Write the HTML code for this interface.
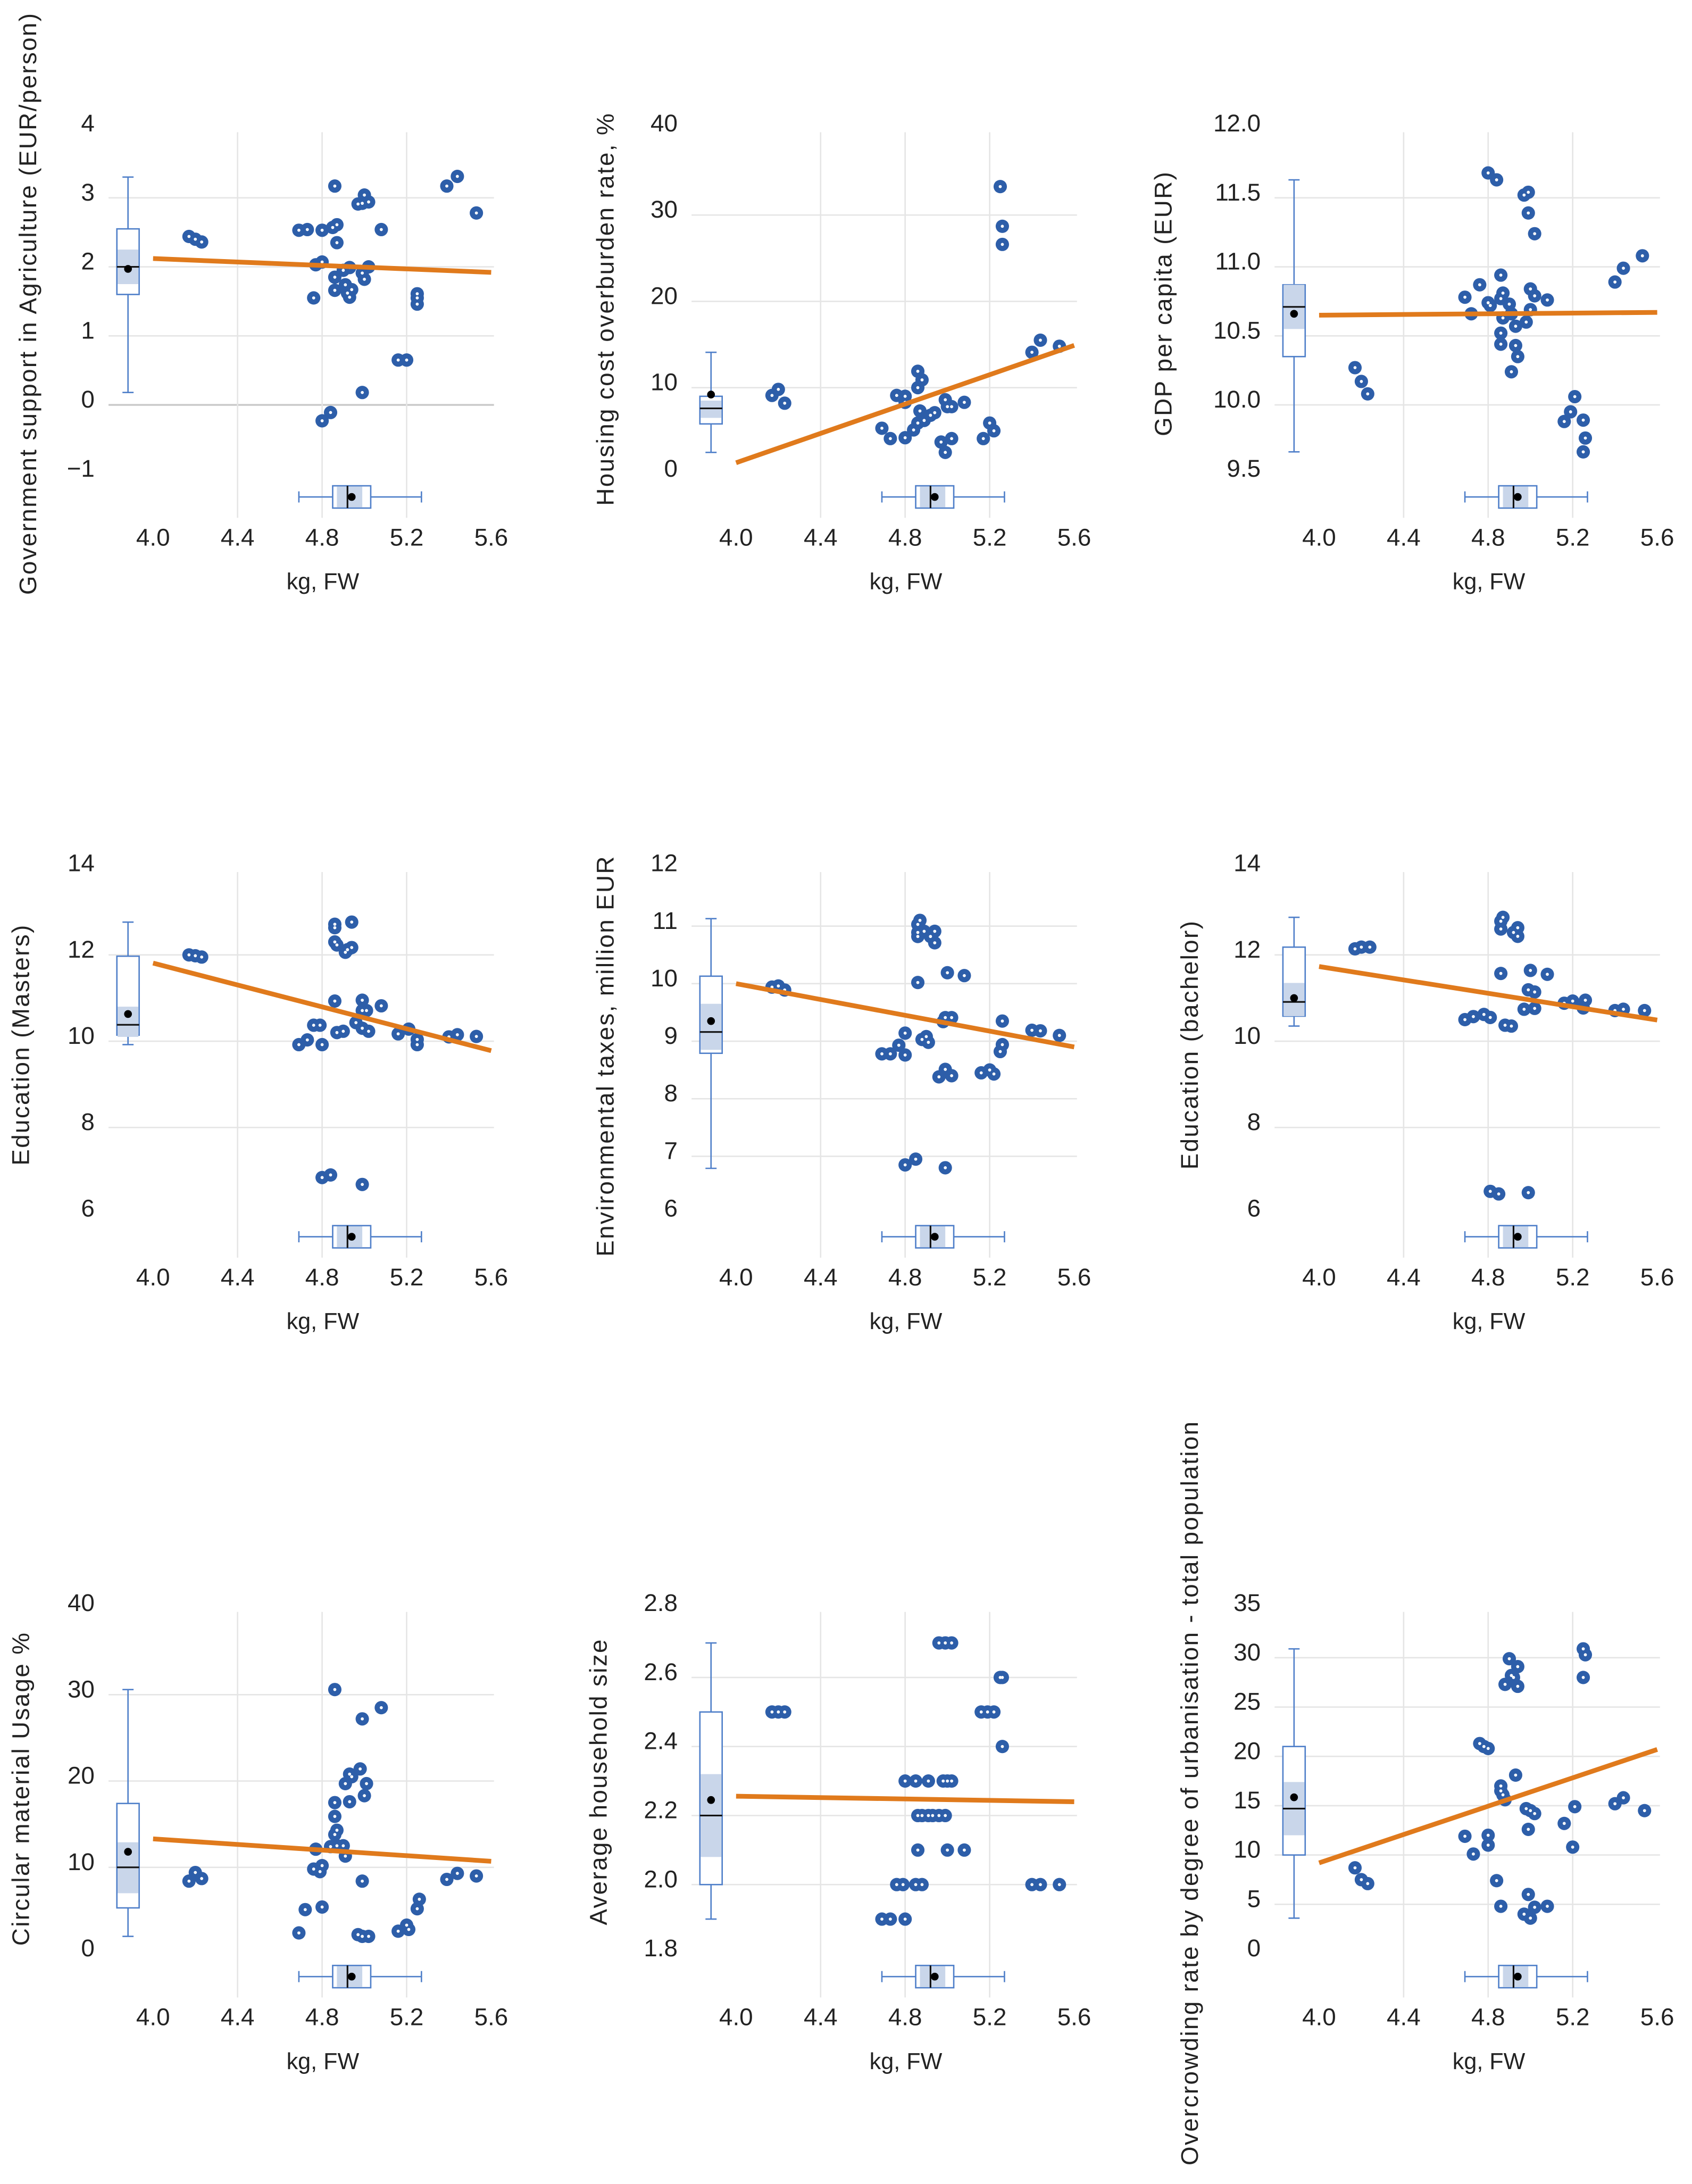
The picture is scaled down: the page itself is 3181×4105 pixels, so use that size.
<!DOCTYPE html>
<html><head><meta charset="utf-8"><title>Scatter panels</title>
<style>html,body{margin:0;padding:0;background:#fff;}svg{display:block;}</style></head>
<body>
<svg id="chart" xmlns="http://www.w3.org/2000/svg" width="3181" height="4105" viewBox="0 0 1216 1569" preserveAspectRatio="none" font-family="Liberation Sans, Arial, sans-serif"></svg>
<script>
// ---------- data ----------
const xTicks = [4.0, 4.4, 4.8, 5.2, 5.6];
const xTickLabels = ["4.0", "4.4", "4.8", "5.2", "5.6"];
const xBoxStats = [4.69, 4.85, 4.92, 5.03, 5.27]; // min, q1, median, q3, max
const xBoxMean = [4.94];
const xBoxCI = [4.87, 4.99];

const titles = [
  "Government support in Agriculture (EUR/person)",
  "Housing cost overburden rate, %",
  "GDP per capita (EUR)",
  "Education (Masters)",
  "Environmental taxes, million EUR",
  "Education (bachelor)",
  "Circular material Usage %",
  "Average household size",
  "Overcrowding rate by degree of urbanisation - total population"
];

const ticks1 = [4, 3, 2, 1, 0, -1];
const tickLabels1 = ["4", "3", "2", "1", "0", "\u22121"];
const x1 = [4.17,4.20,4.23,4.69,4.73,4.80,4.85,4.87,4.86,4.87,4.77,4.80,4.76,4.86,4.86,4.90,4.93,4.91,4.92,4.94,4.93,4.97,5.00,4.99,5.02,4.99,5.00,5.02,5.08,5.16,5.20,5.25,5.25,5.25,4.99,4.80,4.84,5.39,5.44,5.53];
const y1 = [2.44,2.40,2.36,2.53,2.54,2.53,2.57,2.61,3.17,2.35,2.03,2.07,1.55,1.85,1.66,1.95,1.99,1.74,1.62,1.67,1.56,2.91,3.04,2.92,2.94,1.91,1.82,2.00,2.54,0.65,0.65,1.61,1.55,1.46,0.18,-0.23,-0.11,3.17,3.31,2.78];
const trend1 = [2.12, 1.92];
const box1 = [0.18, 1.6, 2.0, 2.55, 3.3];
const mean1 = [1.97];
const ci1 = [1.75, 2.25];

const ticks2 = [40, 30, 20, 10, 0];
const tickLabels2 = ["40", "30", "20", "10", "0"];
const x2 = [5.25,5.26,5.26,4.17,4.20,4.23,5.40,5.44,5.53,4.86,4.88,4.86,4.76,4.80,4.80,4.69,4.73,4.80,4.84,4.87,4.89,4.92,4.94,4.86,4.99,5.00,5.02,5.08,4.97,4.99,5.02,5.17,5.20,5.22];
const y2 = [33.3,28.7,26.6,9.1,9.8,8.2,14.1,15.5,14.8,11.9,10.9,10.0,9.1,9.0,8.3,5.3,4.1,4.2,5.1,7.3,6.2,6.8,7.1,5.9,8.6,7.8,7.8,8.3,3.7,2.5,4.1,4.1,5.9,5.0];
const trend2 = [1.3, 14.9];
const box2 = [2.5, 5.8, 7.6, 9.0, 14.1];
const mean2 = [9.2];
const ci2 = [6.5, 8.5];

const ticks3 = [12.0, 11.5, 11.0, 10.5, 10.0, 9.5];
const tickLabels3 = ["12.0", "11.5", "11.0", "10.5", "10.0", "9.5"];
const x3 = [4.80,4.84,4.97,4.99,4.99,5.02,4.17,4.20,4.23,5.21,5.19,5.16,5.25,5.26,5.25,5.40,5.44,5.53,4.86,4.76,4.69,4.87,4.80,4.86,4.90,5.00,5.02,5.08,4.72,4.81,4.87,4.91,5.00,4.98,4.93,4.86,4.86,4.93,4.94,4.91];
const y3 = [11.68,11.63,11.52,11.54,11.39,11.24,10.27,10.17,10.08,10.06,9.95,9.88,9.89,9.76,9.66,10.89,10.99,11.08,10.94,10.87,10.78,10.81,10.74,10.77,10.73,10.84,10.79,10.76,10.66,10.72,10.63,10.66,10.69,10.60,10.57,10.52,10.44,10.43,10.35,10.24];
const trend3 = [10.65, 10.67];
const box3 = [9.66, 10.35, 10.71, 10.87, 11.63];
const mean3 = [10.66];
const ci3 = [10.55, 10.87];

const ticks4 = [14, 12, 10, 8, 6];
const tickLabels4 = ["14", "12", "10", "8", "6"];
const x4 = [4.17,4.20,4.23,4.86,4.86,4.94,4.86,4.87,4.91,4.94,4.92,4.86,4.99,5.08,4.99,5.01,4.76,4.79,4.87,4.90,4.96,4.99,5.02,4.69,4.73,4.80,5.16,5.21,5.25,5.25,5.40,5.44,5.53,4.80,4.84,4.99];
const y4 = [12.0,11.98,11.95,12.71,12.63,12.76,12.30,12.23,12.06,12.17,12.12,10.93,10.95,10.82,10.71,10.71,10.37,10.37,10.20,10.23,10.43,10.30,10.23,9.92,10.03,9.92,10.17,10.28,10.04,9.92,10.10,10.15,10.11,6.84,6.90,6.68];
const trend4 = [11.81, 9.78];
const box4 = [9.92, 10.14, 10.38, 11.97, 12.76];
const mean4 = [10.63];
const ci4 = [10.1, 10.8];

const ticks5 = [12, 11, 10, 9, 8, 7, 6];
const tickLabels5 = ["12", "11", "10", "9", "8", "7", "6"];
const x5 = [4.87,4.86,4.86,4.86,4.89,4.94,4.92,4.94,5.00,5.08,4.86,4.17,4.20,4.23,4.99,5.02,4.98,5.26,5.40,5.44,5.53,4.80,4.88,4.90,4.91,4.77,4.69,4.73,4.80,5.26,5.25,4.99,4.96,5.02,5.16,5.20,5.22,4.80,4.85,4.99];
const y5 = [11.1,11.03,10.89,10.82,10.91,10.91,10.82,10.71,10.19,10.14,10.02,9.94,9.96,9.89,9.41,9.41,9.34,9.35,9.19,9.18,9.10,9.14,9.03,9.08,8.98,8.93,8.78,8.78,8.76,8.94,8.82,8.51,8.38,8.40,8.45,8.50,8.43,6.85,6.95,6.80];
const trend5 = [10.0, 8.9];
const box5 = [6.79, 8.79, 9.16, 10.13, 11.13];
const mean5 = [9.35];
const ci5 = [8.85, 9.65];

const ticks6 = [14, 12, 10, 8, 6];
const tickLabels6 = ["14", "12", "10", "8", "6"];
const x6 = [4.17,4.20,4.24,4.87,4.86,4.86,4.94,4.92,4.94,4.86,5.00,5.08,4.99,5.02,5.16,5.20,5.26,5.25,5.40,5.44,5.54,4.97,5.02,4.69,4.73,4.78,4.81,4.88,4.91,4.81,4.85,4.99];
const y6 = [12.14,12.18,12.18,12.87,12.78,12.60,12.63,12.52,12.43,11.57,11.64,11.55,11.19,11.14,10.88,10.93,10.95,10.77,10.71,10.74,10.71,10.74,10.76,10.50,10.57,10.62,10.55,10.37,10.35,6.52,6.46,6.49];
const trend6 = [11.73, 10.49];
const box6 = [10.35, 10.58, 10.91, 12.18, 12.87];
const mean6 = [11.0];
const ci6 = [10.58, 11.35];

const ticks7 = [40, 30, 20, 10, 0];
const tickLabels7 = ["40", "30", "20", "10", "0"];
const x7 = [4.86,5.08,4.99,4.98,4.93,4.94,4.91,5.01,5.00,4.93,4.86,4.86,4.87,4.86,4.77,4.84,4.87,4.90,4.91,4.76,4.80,4.79,4.99,4.17,4.20,4.23,5.39,5.44,5.53,5.26,5.25,4.72,4.80,4.69,4.97,4.99,5.02,5.16,5.20,5.21];
const y7 = [30.6,28.5,27.2,21.4,20.8,20.5,19.7,19.7,18.3,17.6,17.5,15.9,14.3,13.8,12.1,12.4,12.5,12.5,11.3,9.8,10.2,9.5,8.4,8.4,9.4,8.7,8.6,9.3,9.0,6.3,5.2,5.1,5.4,2.4,2.2,2.0,2.0,2.6,3.3,2.8];
const trend7 = [13.3, 10.7];
const box7 = [2.0, 5.3, 10.0, 17.4, 30.6];
const mean7 = [11.8];
const ci7 = [7.0, 12.9];

const ticks8 = [2.8, 2.6, 2.4, 2.2, 2.0, 1.8];
const tickLabels8 = ["2.8", "2.6", "2.4", "2.2", "2.0", "1.8"];
const x8 = [4.96,4.99,5.02,5.25,5.26,4.17,4.20,4.23,5.16,5.19,5.22,5.26,4.80,4.85,4.91,4.98,5.00,5.02,4.86,4.88,4.91,4.93,4.96,4.99,4.86,5.00,5.08,4.76,4.79,4.85,4.88,5.40,5.44,5.53,4.69,4.73,4.80];
const y8 = [2.7,2.7,2.7,2.6,2.6,2.5,2.5,2.5,2.5,2.5,2.5,2.4,2.3,2.3,2.3,2.3,2.3,2.3,2.2,2.2,2.2,2.2,2.2,2.2,2.1,2.1,2.1,2.0,2.0,2.0,2.0,2.0,2.0,2.0,1.9,1.9,1.9];
const trend8 = [2.256, 2.24];
const box8 = [1.9, 2.0, 2.2, 2.5, 2.7];
const mean8 = [2.245];
const ci8 = [2.08, 2.32];

const ticks9 = [35, 30, 25, 20, 15, 10, 5, 0];
const tickLabels9 = ["35", "30", "25", "20", "15", "10", "5", "0"];
const x9 = [5.25,5.26,5.25,4.90,4.94,4.91,4.92,4.88,4.94,4.76,4.78,4.80,4.93,4.86,4.86,4.87,4.88,4.98,5.00,5.02,5.21,5.16,5.20,5.40,5.44,5.54,4.69,4.80,4.80,4.73,4.99,4.17,4.20,4.23,4.84,4.86,4.99,5.02,5.08,4.97,5.00];
const y9 = [30.9,30.3,28.0,29.9,29.1,28.2,28.0,27.3,27.1,21.3,21.0,20.8,18.1,17.0,16.5,16.1,15.6,14.7,14.5,14.2,14.9,13.2,10.8,15.2,15.8,14.5,11.9,12.0,11.0,10.1,12.6,8.7,7.5,7.1,7.4,4.8,6.0,4.7,4.8,4.0,3.6];
const trend9 = [9.2, 20.7];
const box9 = [3.6, 10.0, 14.7, 21.0, 30.9];
const mean9 = [15.85];
const ci9 = [12.0, 17.4];

// ---------- layout (not data) ----------
const panels = [
  {t:0, ticks:ticks1, lab:tickLabels1, xs:x1, ys:y1, tr:trend1, box:box1, mean:mean1, ci:ci1, col:0,row:0, tx:20, ty:218, zero:true},
  {t:1, ticks:ticks2, lab:tickLabels2, xs:x2, ys:y2, tr:trend2, box:box2, mean:mean2, ci:ci2, col:1,row:0, tx:16, ty:222},
  {t:2, ticks:ticks3, lab:tickLabels3, xs:x3, ys:y3, tr:trend3, box:box3, mean:mean3, ci:ci3, col:2,row:0, tx:-2, ty:218},
  {t:3, ticks:ticks4, lab:tickLabels4, xs:x4, ys:y4, tr:trend4, box:box4, mean:mean4, ci:ci4, col:0,row:1, tx:15, ty:219},
  {t:4, ticks:ticks5, lab:tickLabels5, xs:x5, ys:y5, tr:trend5, box:box5, mean:mean5, ci:ci5, col:1,row:1, tx:16, ty:227},
  {t:5, ticks:ticks6, lab:tickLabels6, xs:x6, ys:y6, tr:trend6, box:box6, mean:mean6, ci:ci6, col:2,row:1, tx:17, ty:219},
  {t:6, ticks:ticks7, lab:tickLabels7, xs:x7, ys:y7, tr:trend7, box:box7, mean:mean7, ci:ci7, col:0,row:2, tx:15, ty:222},
  {t:7, ticks:ticks8, lab:tickLabels8, xs:x8, ys:y8, tr:trend8, box:box8, mean:mean8, ci:ci8, col:1,row:2, tx:11, ty:217},
  {t:8, ticks:ticks9, lab:tickLabels9, xs:x9, ys:y9, tr:trend9, box:box9, mean:mean9, ci:ci9, col:2,row:2, tx:17, ty:225}
];
const COL_OFF = [0, 419, 838];
const ROW_OFF = [0, 531.5, 1063];
const NS = "http://www.w3.org/2000/svg";
const svg = document.getElementById('chart');
const BLUE = "#2d5ea9", BOXC = "#4f7fc9", SHADE = "#c9d6ea", GRID = "#e5e5e5";

function mk(tag, attrs, parent){ const e=document.createElementNS(NS,tag); for(const k in attrs) e.setAttribute(k, attrs[k]); parent.appendChild(e); return e; }

panels.forEach((p, i) => {
  const g = mk('g', {transform:`translate(${COL_OFF[p.col]},${ROW_OFF[p.row]})`}, svg);
  
  
  const ymax = p.ticks[0], ymin = p.ticks[p.ticks.length-1];
  const xs = v => 110 + (v - 4.0) / 1.6 * 243;
  const ys = v => 92.5 + (ymax - v) / (ymax - ymin) * 248;

  p.ticks.forEach((t, k) => {
    if (k === 0 || k === p.ticks.length-1) return;
    if (p.zero && t === 0) return;
    const l = mk('line', {x1:78, x2:355, y1:ys(t), y2:ys(t), stroke:GRID, 'stroke-width':1}, g);
    
    
  });
  if (p.zero) {
    const z = mk('line', {x1:78, x2:355, y1:ys(0), y2:ys(0), stroke:"#c8c8c8", 'stroke-width':1.3}, g);
    
    
  }
  xTicks.forEach((t, k) => {
    if (k === 0 || k === xTicks.length-1) return;
    const l = mk('line', {x1:xs(t), x2:xs(t), y1:95, y2:372, stroke:GRID, 'stroke-width':1}, g);
    
    
  });

  p.ticks.forEach((t, k) => {
    const tx = mk('text', {x:68, y:ys(t)-4, 'text-anchor':'end', 'font-size':17.5, fill:'#222', 'dominant-baseline':'central'}, g);
    tx.textContent = p.lab[k];
    
    
  });
  xTicks.forEach((t, k) => {
    const tx = mk('text', {x:xs(t), y:386, 'text-anchor':'middle', 'font-size':17.5, fill:'#222', 'dominant-baseline':'central'}, g);
    tx.textContent = xTickLabels[k];
    
    
  });
  const xt = mk('text', {x:232, y:418, 'text-anchor':'middle', 'font-size':16.5, fill:'#222', 'dominant-baseline':'central'}, g);
  xt.textContent = "kg, FW";
  
  
  const yt = mk('text', {x:p.tx, y:p.ty, 'text-anchor':'middle', 'font-size':17.5, 'letter-spacing':0.9, fill:'#222', 'dominant-baseline':'central', transform:`rotate(-90 ${p.tx} ${p.ty})`}, g);
  yt.textContent = titles[p.t];
  
  

  const bx = 92, bw = 16;
  const vb = mk('g', {}, g);
  
  
  mk('line', {x1:bx, x2:bx, y1:ys(p.box[4]), y2:ys(p.box[0]), stroke:BOXC, 'stroke-width':1}, vb);
  mk('line', {x1:bx-4, x2:bx+4, y1:ys(p.box[4]), y2:ys(p.box[4]), stroke:BOXC, 'stroke-width':1}, vb);
  mk('line', {x1:bx-4, x2:bx+4, y1:ys(p.box[0]), y2:ys(p.box[0]), stroke:BOXC, 'stroke-width':1}, vb);
  mk('rect', {x:bx-bw/2, y:ys(p.box[3]), width:bw, height:ys(p.box[1])-ys(p.box[3]), fill:'#fff', stroke:BOXC, 'stroke-width':1}, vb);
  mk('rect', {x:bx-bw/2+0.5, y:ys(p.ci[1]), width:bw-1, height:ys(p.ci[0])-ys(p.ci[1]), fill:SHADE}, vb);
  mk('line', {x1:bx-bw/2, x2:bx+bw/2, y1:ys(p.box[2]), y2:ys(p.box[2]), stroke:'#111', 'stroke-width':1.2}, vb);
  mk('circle', {cx:bx, cy:ys(p.mean[0]), r:2.8, fill:'#000'}, vb);

  const by = 357, bh = 16;
  const hb = mk('g', {}, g);
  
  
  mk('line', {x1:xs(xBoxStats[0]), x2:xs(xBoxStats[4]), y1:by, y2:by, stroke:BOXC, 'stroke-width':1}, hb);
  mk('line', {x1:xs(xBoxStats[0]), x2:xs(xBoxStats[0]), y1:by-4, y2:by+4, stroke:BOXC, 'stroke-width':1}, hb);
  mk('line', {x1:xs(xBoxStats[4]), x2:xs(xBoxStats[4]), y1:by-4, y2:by+4, stroke:BOXC, 'stroke-width':1}, hb);
  mk('rect', {x:xs(xBoxStats[1]), y:by-bh/2, width:xs(xBoxStats[3])-xs(xBoxStats[1]), height:bh, fill:'#fff', stroke:BOXC, 'stroke-width':1}, hb);
  mk('rect', {x:xs(xBoxCI[0]), y:by-bh/2+0.5, width:xs(xBoxCI[1])-xs(xBoxCI[0]), height:bh-1, fill:SHADE}, hb);
  mk('line', {x1:xs(xBoxStats[2]), x2:xs(xBoxStats[2]), y1:by-bh/2, y2:by+bh/2, stroke:'#111', 'stroke-width':1.2}, hb);
  mk('circle', {cx:xs(xBoxMean[0]), cy:by, r:2.8, fill:'#000'}, hb);

  const pg = mk('g', {}, g);
  
  
  p.xs.forEach((xv, k) => {
    const c = mk('circle', {cx:xs(xv), cy:ys(p.ys[k]), r:4.8, fill:BLUE}, pg);
    
    
  });
  p.xs.forEach((xv, k) => {
    mk('circle', {cx:xs(xv), cy:ys(p.ys[k]), r:1.1, fill:'#fff'}, pg);
  });

  const tl = mk('line', {x1:xs(4.0), x2:xs(5.6), y1:ys(p.tr[0]), y2:ys(p.tr[1]), stroke:'#e07a1c', 'stroke-width':3.4}, g);
  
  
});
</script>
</body></html>
